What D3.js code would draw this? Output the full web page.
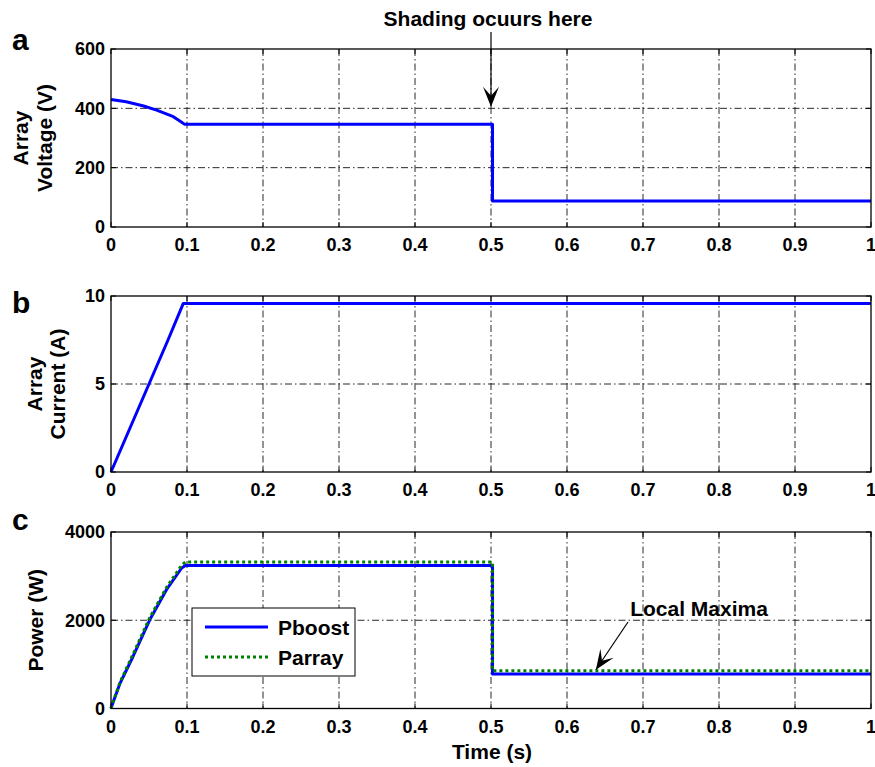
<!DOCTYPE html>
<html><head><meta charset="utf-8">
<script src="https://cdn.jsdelivr.net/npm/d3@7"></script>
<style>
body{margin:0;background:#fff;}
text{font-family:"Liberation Sans",Arial,Helvetica,sans-serif;font-weight:bold;fill:#000;}
</style></head>
<body>
<svg id="chart" width="875" height="767"></svg>
<script>
// ---------- data ----------
const xTicks = [0, 0.1, 0.2, 0.3, 0.4, 0.5, 0.6, 0.7, 0.8, 0.9, 1];
const xTickLabels = ["0","0.1","0.2","0.3","0.4","0.5","0.6","0.7","0.8","0.9","1"];

const timeV = [0, 0.02, 0.043, 0.06, 0.082, 0.092, 0.097, 0.502, 0.502, 1.0];
const voltage = [430, 422, 408, 394, 372, 355, 346, 346, 88, 88];
const voltageTicks = [0, 200, 400, 600];

const timeI = [0, 0.025, 0.05, 0.075, 0.095, 0.5, 1.0];
const current = [0, 2.5, 5.0, 7.5, 9.57, 9.57, 9.57];
const currentTicks = [0, 5, 10];

const timeP = [0, 0.0015, 0.012, 0.029, 0.051, 0.073, 0.093, 0.098, 0.502, 0.502, 1.0];
const pBoost = [0, 80, 576, 1179, 2011, 2692, 3184, 3240, 3240, 780, 780];
const pArray = [0, 90, 600, 1230, 2060, 2740, 3250, 3320, 3320, 855, 855];
const powerTicks = [0, 2000, 4000];

const legendLabels = ["Pboost", "Parray"];

// ---------- layout ----------
const svg = d3.select("#chart");
const L = 111, R = 871;
const x = d3.scaleLinear().domain([0, 1]).range([L, R]);

const panels = [
  {id:"a", top:49, bottom:227, ymax:600, ticks:voltageTicks, labelY:50, titles:[["Array",28],["Voltage (V)",52]]},
  {id:"b", top:296, bottom:472, ymax:10, ticks:currentTicks, labelY:313, titles:[["Array",42],["Current (A)",65]]},
  {id:"c", top:532, bottom:708.5, ymax:4000, ticks:powerTicks, labelY:530, titles:[["Power (W)",43]]}
];

panels.forEach(p => {
  p.y = d3.scaleLinear().domain([0, p.ymax]).range([p.bottom, p.top]);
  const g = svg.append("g");
  // grid
  xTicks.filter(t => t > 0 && t < 1).forEach(t => {
    g.append("line").attr("x1", x(t)).attr("x2", x(t)).attr("y1", p.top).attr("y2", p.bottom)
      .attr("stroke", "#111").attr("stroke-width", 0.9).attr("stroke-dasharray", "7,3,1.5,3");
  });
  p.ticks.filter(t => t > 0 && t < p.ymax).forEach(t => {
    g.append("line").attr("x1", L).attr("x2", R).attr("y1", p.y(t)).attr("y2", p.y(t))
      .attr("stroke", "#111").attr("stroke-width", 0.9).attr("stroke-dasharray", "7,3,1.5,3");
  });
  // ticks (inward)
  xTicks.forEach(t => {
    g.append("line").attr("x1", x(t)).attr("x2", x(t)).attr("y1", p.bottom).attr("y2", p.bottom - 5).attr("stroke", "#000");
    g.append("line").attr("x1", x(t)).attr("x2", x(t)).attr("y1", p.top).attr("y2", p.top + 5).attr("stroke", "#000");
  });
  p.ticks.forEach(t => {
    g.append("line").attr("x1", L).attr("x2", L + 5).attr("y1", p.y(t)).attr("y2", p.y(t)).attr("stroke", "#000");
    g.append("line").attr("x1", R).attr("x2", R - 5).attr("y1", p.y(t)).attr("y2", p.y(t)).attr("stroke", "#000");
  });
  // tick labels
  xTicks.forEach((t, i) => {
    g.append("text").attr("x", x(t)).attr("y", p.bottom + 24).attr("text-anchor", "middle")
      .attr("font-size", 18).text(xTickLabels[i]);
  });
  p.ticks.forEach(t => {
    g.append("text").attr("x", 105).attr("y", p.y(t)).attr("dy", "0.36em").attr("text-anchor", "end")
      .attr("font-size", 18).text(t);
  });
  // panel label
  g.append("text").attr("x", 12).attr("y", p.labelY).attr("font-size", 30).text(p.id);
  // y title
  const cy = (p.top + p.bottom) / 2;
  p.titles.forEach(([txt, bx]) => {
    g.append("text").attr("transform", `translate(${bx},${cy}) rotate(-90)`)
      .attr("text-anchor", "middle").attr("font-size", 21).text(txt);
  });
  p.g = g;
});

function drawLine(p, xs, ys, color, dash) {
  const line = d3.line().x(d => x(d[0])).y(d => p.y(d[1]));
  p.g.append("path").datum(xs.map((t, i) => [t, ys[i]])).attr("d", line)
    .attr("fill", "none").attr("stroke", color).attr("stroke-width", 3)
    .attr("stroke-linejoin", "round")
    .attr("stroke-dasharray", dash || null);
}

drawLine(panels[0], timeV, voltage, "#0000ff");
drawLine(panels[1], timeI, current, "#0000ff");
drawLine(panels[2], timeP, pBoost, "#0000ff");
drawLine(panels[2], timeP, pArray, "#008000", "3,3");

// frames on top
panels.forEach(p => {
  p.g.append("rect").attr("x", L).attr("y", p.top).attr("width", R - L).attr("height", p.bottom - p.top)
    .attr("fill", "none").attr("stroke", "#000").attr("stroke-width", 1.3);
});

// x title
svg.append("text").attr("x", 492).attr("y", 759).attr("text-anchor", "middle").attr("font-size", 21).text("Time (s)");

// arrows
function arrow(x1, y1, x2, y2) {
  svg.append("line").attr("x1", x1).attr("y1", y1).attr("x2", x2).attr("y2", y2)
    .attr("stroke", "#000").attr("stroke-width", 1.2);
  const ang = Math.atan2(y2 - y1, x2 - x1);
  const len = 20, half = 8, notch = 11;
  const pt = (a, d) => [x2 - Math.cos(ang) * a - Math.sin(ang) * d, y2 - Math.sin(ang) * a + Math.cos(ang) * d];
  const pts = [[x2, y2], pt(len, half), pt(notch, 0), pt(len, -half)];
  svg.append("path").attr("d", "M" + pts.map(q => q.join(",")).join("L") + "Z").attr("fill", "#000");
}
svg.append("text").attr("x", 488).attr("y", 26).attr("text-anchor", "middle").attr("font-size", 21).text("Shading ocuurs here");
arrow(x(0.5), 32, x(0.5), panels[0].y(405));

svg.append("text").attr("x", 699).attr("y", 616).attr("text-anchor", "middle").attr("font-size", 21).text("Local Maxima");
arrow(628, 622, x(0.638), panels[2].y(855) - 1);

// legend
const lg = svg.append("g");
lg.append("rect").attr("x", 192).attr("y", 608).attr("width", 163).attr("height", 68)
  .attr("fill", "#fff").attr("stroke", "#000").attr("stroke-width", 1);
const legendStyles = [{c:"#0000ff", d:null}, {c:"#008000", d:"3,3"}];
legendLabels.forEach((lab, i) => {
  const yy = 627 + i * 30;
  lg.append("line").attr("x1", 205).attr("x2", 268).attr("y1", yy).attr("y2", yy)
    .attr("stroke", legendStyles[i].c).attr("stroke-width", 3).attr("stroke-dasharray", legendStyles[i].d);
  lg.append("text").attr("x", 278).attr("y", yy).attr("dy", "0.36em").attr("font-size", 21).text(lab);
});
</script>
</body></html>
